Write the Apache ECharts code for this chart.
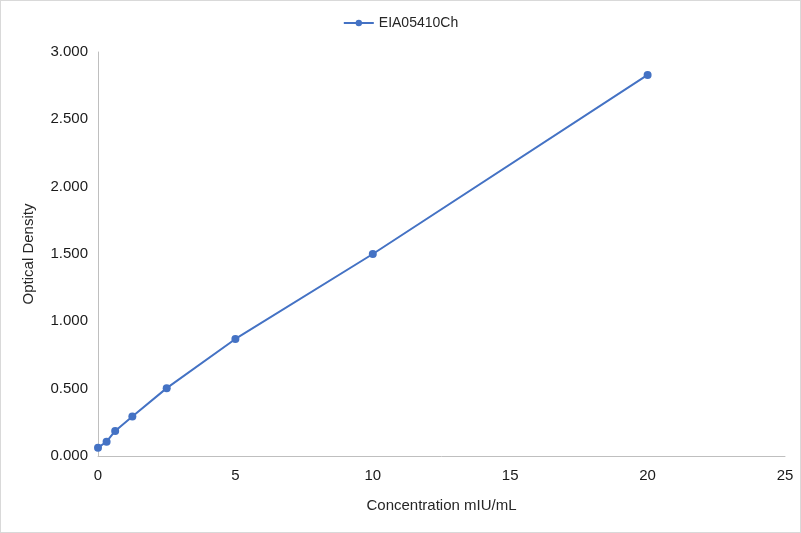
<!DOCTYPE html>
<html>
<head>
<meta charset="utf-8">
<script src="https://cdn.jsdelivr.net/npm/echarts@6/dist/echarts.min.js"></script>
<style>html,body{margin:0;padding:0;background:#fff}#main{width:799px;height:531px;border:1px solid #d9d9d9}</style>
</head>
<body>
<div id="main"></div>
<script>
// 标准曲线数据
const seriesName = 'EIA05410Ch'
const concentration = [0, 0.3125, 0.625, 1.25, 2.5, 5, 10, 20]
const density = [0.062, 0.106, 0.186, 0.293, 0.504, 0.869, 1.500, 2.830]

const chart = echarts.init(document.getElementById('main'))
const axisText = { color: '#1a1a1a', fontSize: 15, fontFamily: 'Liberation Sans, Arial' }

chart.setOption({
  animation: false,
  textStyle: { fontFamily: 'Liberation Sans, Arial' },
  legend: {
    top: 10, left: 'center',
    itemWidth: 30, itemHeight: 8,
    textStyle: { color: '#262626', fontSize: 14 },
    data: [seriesName]
  },
  grid: { left: 97, right: 15, top: 51, bottom: 76 },
  xAxis: {
    type: 'value', min: 0, max: 25, interval: 5,
    name: 'Concentration mIU/mL', nameLocation: 'middle', nameGap: 42,
    nameTextStyle: { color: '#262626', fontSize: 15 },
    axisLine: { lineStyle: { color: '#bfbfbf' } },
    axisTick: { show: false },
    splitLine: { show: false },
    axisLabel: { ...axisText, margin: 12 }
  },
  yAxis: {
    type: 'value', min: 0, max: 3, interval: 0.5,
    name: 'Optical Density', nameLocation: 'middle', nameGap: 62,
    nameTextStyle: { color: '#262626', fontSize: 15 },
    axisLine: { show: true, lineStyle: { color: '#bfbfbf' } },
    axisTick: { show: false },
    splitLine: { show: false },
    axisLabel: { ...axisText, margin: 10, formatter: v => v.toFixed(3) }
  },
  series: [{
    name: seriesName,
    type: 'line',
    data: concentration.map((x, i) => [x, density[i]]),
    symbol: 'circle', symbolSize: 8,
    lineStyle: { color: '#4472c4', width: 2 },
    itemStyle: { color: '#4472c4' }
  }]
})
</script>
</body>
</html>
